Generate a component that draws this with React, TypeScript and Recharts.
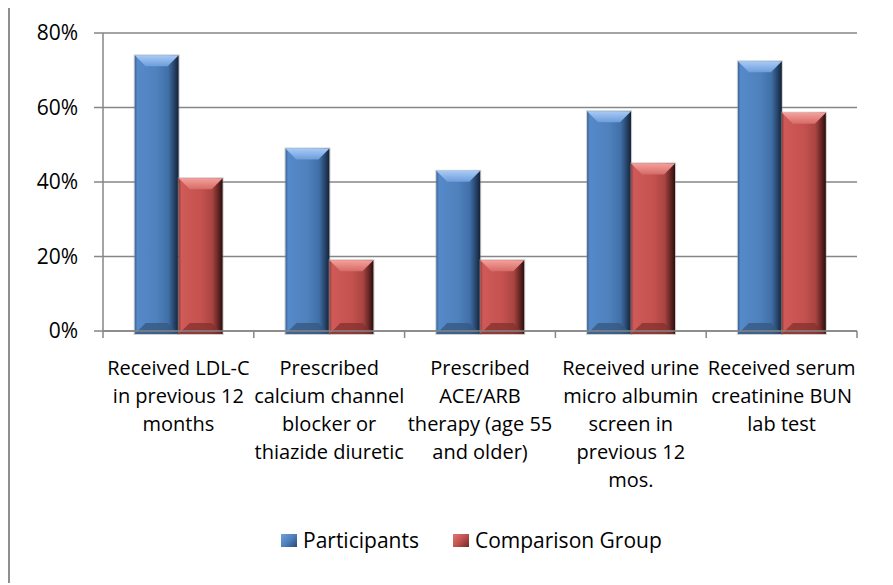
import React from 'react';
import { BarChart, Bar, XAxis, YAxis, CartesianGrid, Legend } from 'recharts';

const categories = [
  'Received LDL-C\nin previous 12\nmonths',
  'Prescribed\ncalcium channel\nblocker or\nthiazide diuretic',
  'Prescribed\nACE/ARB\ntherapy (age 55\nand older)',
  'Received urine\nmicro albumin\nscreen in\nprevious 12\nmos.',
  'Received serum\ncreatinine BUN\nlab test',
];
const participants = [74, 49, 43, 59, 72.4];
const comparison = [41, 19, 19, 45, 58.6];
const yTicks = [0, 20, 40, 60, 80];
const seriesNames = ['Participants', 'Comparison Group'];

const data = categories.map((name, i) => ({
  name,
  participants: participants[i],
  comparison: comparison[i],
}));

const AXIS = '#868686';

const TONES: any = {
  blue: {
    base: '#4F81BD',
    face: [
      [0, '#3a6395'],
      [0.06, '#5689c9'],
      [0.5, '#4f81bd'],
      [0.76, '#4170a8'],
      [0.88, '#2a4a73'],
      [1, '#132236'],
    ],
    top: ['#a8cbf6', '#6d9ddb'],
    bottom: '#34577f',
    swatch: 'linear-gradient(135deg, #6f9fdc 0%, #4f81bd 50%, #2a4a73 100%)',
  },
  red: {
    base: '#C0504D',
    face: [
      [0, '#963c3a'],
      [0.06, '#cf5a57'],
      [0.5, '#c5524f'],
      [0.76, '#aa4542'],
      [0.88, '#6e2a28'],
      [1, '#2a0e0d'],
    ],
    top: ['#f6a09c', '#d66b67'],
    bottom: '#83302e',
    swatch: 'linear-gradient(135deg, #e27773 0%, #c0504d 50%, #6e2a28 100%)',
  },
};

function Cyl(props: any) {
  const { x, y, width: w, height: h0, index, tone } = props;
  if (!h0 || h0 <= 0) return null;
  const c = TONES[tone];
  const h = h0 + 3;
  const b = Math.min(11, w / 4, h / 2);
  const id = `${tone}-${index}`;
  return (
    <g>
      <defs>
        <linearGradient id={`f-${id}`} x1="0" y1="0" x2="1" y2="0">
          {c.face.map((s: any, i: number) => (
            <stop key={i} offset={s[0]} stopColor={s[1]} />
          ))}
        </linearGradient>
        <linearGradient id={`t-${id}`} x1="0" y1="0" x2="0" y2="1">
          <stop offset="0" stopColor={c.top[0]} />
          <stop offset="1" stopColor={c.top[1]} />
        </linearGradient>
      </defs>
      <rect x={x - 0.5} y={y - 0.5} width={w + 1} height={h + 1} fill="none" stroke="rgba(150,150,150,0.45)" />
      <rect x={x} y={y} width={w} height={h} fill={`url(#f-${id})`} />
      <polygon
        points={`${x},${y} ${x + w},${y} ${x + w - b},${y + b} ${x + b},${y + b}`}
        fill={`url(#t-${id})`}
      />
      <polygon
        points={`${x},${y + h} ${x + w},${y + h} ${x + w - b},${y + h - b} ${x + b},${y + h - b}`}
        fill={c.bottom}
        opacity={0.75}
      />
    </g>
  );
}

function XTick(props: any) {
  const { x, y, payload, index, visibleTicksCount } = props;
  const half = payload && payload.offset ? payload.offset : 75.4;
  const lines = String(payload.value).split('\n');
  const last = index === visibleTicksCount - 1;
  return (
    <g>
      <line x1={x - half} x2={x - half} y1={y} y2={y + 7} stroke={AXIS} strokeWidth={1.5} />
      {last && <line x1={x + half} x2={x + half} y1={y} y2={y + 7} stroke={AXIS} strokeWidth={1.5} />}
      <text x={x} y={y + 44} textAnchor="middle" fontSize={20} fill="#000">
        {lines.map((l, i) => (
          <tspan key={i} x={x} dy={i === 0 ? 0 : 28}>
            {l}
          </tspan>
        ))}
      </text>
    </g>
  );
}

function LegendContent(props: any) {
  const raw = props.payload || [];
  const payload = seriesNames
    .map((n) => raw.find((e: any) => e.value === n))
    .filter(Boolean);
  return (
    <div style={{ display: 'flex', alignItems: 'center', fontSize: 21, lineHeight: '28px', color: '#000', whiteSpace: 'nowrap' }}>
      {payload.map((e: any, i: number) => (
        <div key={i} style={{ display: 'flex', alignItems: 'center', marginLeft: i ? 34 : 0 }}>
          <span
            style={{
              display: 'inline-block',
              width: 16,
              height: 13,
              marginRight: 6,
              background: e.value === seriesNames[0] ? TONES.blue.swatch : TONES.red.swatch,
            }}
          />
          <span>{e.value}</span>
        </div>
      ))}
    </div>
  );
}

export default function App() {
  return (
    <div style={{ position: 'relative', width: 885, height: 577, marginTop: -2, fontFamily: '"Open Sans", sans-serif' }}>
      <BarChart
        width={885}
        height={577}
        data={data}
        margin={{ top: 27, right: 36, bottom: 0, left: 0 }}
        barCategoryGap="21%"
        barGap={0}
      >
        <CartesianGrid vertical={false} stroke={AXIS} strokeWidth={1.5} />
        <Bar
          dataKey="participants"
          name={seriesNames[0]}
          fill={TONES.blue.base}
          isAnimationActive={false}
          shape={(p: any) => <Cyl {...p} tone="blue" />}
        />
        <Bar
          dataKey="comparison"
          name={seriesNames[1]}
          fill={TONES.red.base}
          isAnimationActive={false}
          shape={(p: any) => <Cyl {...p} tone="red" />}
        />
        <XAxis
          dataKey="name"
          height={252}
          interval={0}
          tickLine={false}
          tickSize={0}
          tickMargin={0}
          axisLine={{ stroke: AXIS, strokeWidth: 1.5 }}
          tick={<XTick />}
        />
        <YAxis
          width={95}
          domain={[0, 80]}
          ticks={yTicks}
          tickFormatter={(v: number) => `${v}%`}
          tick={{ fontSize: 21, fill: '#000' }}
          tickSize={9}
          tickMargin={16}
          tickLine={{ stroke: AXIS, strokeWidth: 1.5 }}
          axisLine={{ stroke: AXIS, strokeWidth: 1.5 }}
        />
        <Legend
          verticalAlign="bottom"
          itemSorter={null as any}
          content={<LegendContent />}
          wrapperStyle={{ position: 'absolute', left: 273, top: 520, width: 'auto', height: 0 }}
        />
      </BarChart>
      <div
        style={{
          position: 'absolute',
          left: 0,
          top: 0,
          width: 885,
          height: 577,
          boxSizing: 'border-box',
          borderLeft: '2px solid #8f8f8f',
          borderTop: '2px solid #8f8f8f',
          pointerEvents: 'none',
        }}
      />
    </div>
  );
}
